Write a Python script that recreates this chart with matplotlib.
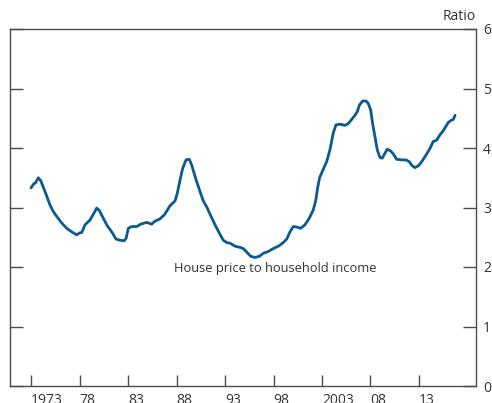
import matplotlib
matplotlib.use("Agg")
import matplotlib.pyplot as plt

years = [1973.0, 1973.24, 1973.48, 1973.75, 1974.0, 1974.27, 1974.62, 1974.96, 1975.3, 1975.65,
         1976.16, 1976.68, 1977.2, 1977.71, 1977.98, 1978.23, 1978.57, 1979.08, 1979.5, 1979.77,
         1980.04, 1980.45, 1980.87, 1981.32, 1981.76, 1982.18, 1982.59, 1982.8, 1983.03, 1983.38,
         1983.9, 1984.31, 1984.93, 1985.44, 1985.78, 1986.3, 1986.76, 1987.33, 1987.85, 1988.08,
         1988.36, 1988.64, 1988.98, 1989.32, 1989.57, 1990.01, 1990.42, 1990.76, 1991.11, 1991.45,
         1991.97, 1992.41, 1992.82, 1993.18, 1993.52, 1994.03, 1994.55, 1994.89, 1995.3, 1995.65,
         1996.09, 1996.54, 1996.95, 1997.46, 1997.98, 1998.5, 1999.01, 1999.36, 1999.7, 2000.04,
         2000.45, 2000.8, 2001.25, 2001.69, 2002.1, 2002.36, 2002.55, 2002.75, 2003.07, 2003.48,
         2003.82, 2004.16, 2004.44, 2004.86, 2005.37, 2005.71, 2006.06, 2006.4, 2006.64, 2006.85,
         2007.2, 2007.54, 2007.77, 2008.02, 2008.22, 2008.46, 2008.7, 2008.98, 2009.22, 2009.49,
         2009.73, 2010.08, 2010.35, 2010.7, 2011.22, 2011.66, 2012.0, 2012.25, 2012.59, 2012.93,
         2013.28, 2013.72, 2014.13, 2014.47, 2014.82, 2015.16, 2015.58, 2016.02, 2016.37, 2016.54,
         2016.72]
ratio = [3.33, 3.39, 3.42, 3.50, 3.45, 3.34, 3.19, 3.04, 2.93, 2.85,
         2.74, 2.65, 2.59, 2.54, 2.57, 2.58, 2.71, 2.79, 2.91, 2.99,
         2.95, 2.82, 2.69, 2.59, 2.47, 2.45, 2.44, 2.48, 2.65, 2.68,
         2.68, 2.72, 2.75, 2.72, 2.77, 2.81, 2.88, 3.03, 3.11, 3.24,
         3.46, 3.66, 3.80, 3.81, 3.71, 3.47, 3.27, 3.11, 3.01, 2.89,
         2.71, 2.57, 2.45, 2.41, 2.40, 2.35, 2.33, 2.31, 2.24, 2.18,
         2.16, 2.18, 2.23, 2.26, 2.31, 2.35, 2.41, 2.47, 2.59, 2.68,
         2.67, 2.65, 2.71, 2.82, 2.96, 3.12, 3.33, 3.50, 3.62, 3.77,
         3.97, 4.25, 4.39, 4.40, 4.38, 4.41, 4.48, 4.55, 4.61, 4.72,
         4.79, 4.79, 4.75, 4.64, 4.41, 4.19, 3.97, 3.84, 3.83, 3.91,
         3.98, 3.95, 3.90, 3.81, 3.80, 3.80, 3.77, 3.71, 3.67, 3.70,
         3.77, 3.88, 3.99, 4.11, 4.13, 4.22, 4.31, 4.43, 4.47, 4.48,
         4.55]

xtick_pos = [1973, 1978, 1983, 1988, 1993, 1998, 2003, 2008, 2013]
xtick_labels = ["1973", "78", "83", "88", "93", "98", "2003", "08", "13"]
ytick_pos = [0, 1, 2, 3, 4, 5, 6]
series_label = "House price to household income"
unit_label = "Ratio"

plt.rcParams['font.family'] = ['Open Sans', 'DejaVu Sans']
text_color = "#333333"
spine_color = "#4d4d4d"
line_color = "#0b5a8f"

fig = plt.figure(figsize=(4.92, 4.03), dpi=100)
ax = fig.add_axes([10/492, 17/403, 466/492, 357/403])

ax.plot(years, ratio, color=line_color, lw=2.0, solid_capstyle="round", solid_joinstyle="round")

ax.set_xlim(1970.83, 2018.88)
ax.set_ylim(0, 6)

ax.set_xticks(xtick_pos)
ax.set_xticklabels(xtick_labels, ha="left")
ax.set_yticks(ytick_pos)

ax.tick_params(axis="x", direction="in", length=8, width=1.0, color=spine_color,
               labelsize=10, labelcolor=text_color, pad=5, top=False)
ax.tick_params(axis="y", direction="in", length=9.5, width=1.0, color=spine_color,
               labelsize=10, labelcolor=text_color, pad=5,
               left=True, right=True, labelleft=False, labelright=True)

for s in ax.spines.values():
    s.set_color(spine_color)
    s.set_linewidth(1.0)

ax.text(1998.2, 1.98, series_label, ha="center", va="center", fontsize=9.3, color=text_color)
ax.text(1.0, 1.015, unit_label, transform=ax.transAxes, ha="right", va="bottom",
        fontsize=10, color=text_color)

fig.savefig("out.png", dpi=100)
